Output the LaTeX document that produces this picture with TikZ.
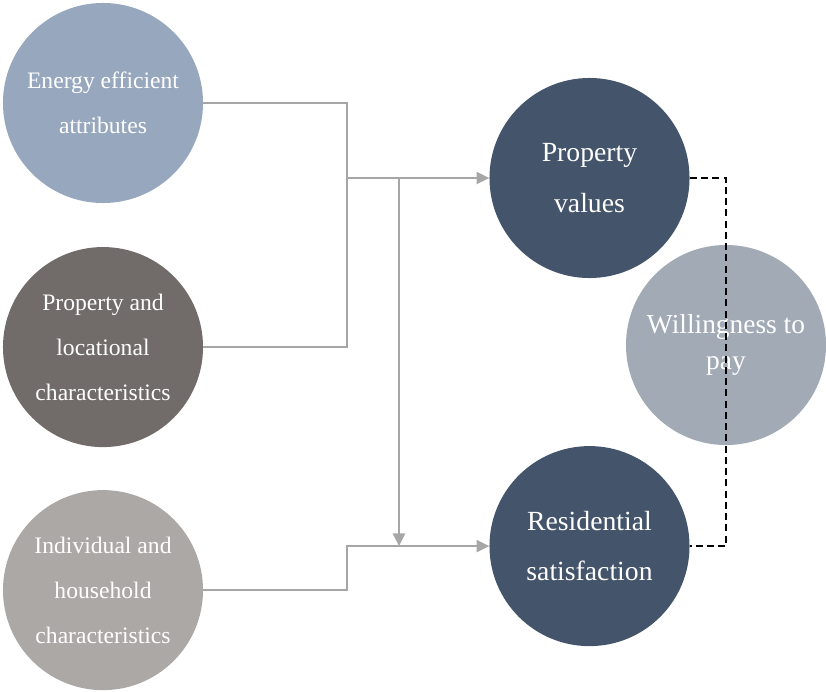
\documentclass[tikz,border=0pt]{standalone}
\usepackage{fontspec}
\setmainfont{Liberation Serif}
\usepackage{tikz}
\usetikzlibrary{positioning,arrows.meta}

\definecolor{energyblue}{HTML}{97A7BE}
\definecolor{locgray}{HTML}{716C6A}
\definecolor{hhgray}{HTML}{ACA8A6}
\definecolor{navy}{HTML}{44546A}
\definecolor{wtpgray}{HTML}{A2AAB5}
\definecolor{linkgray}{HTML}{A6A6A6}

\tikzset{
  circ/.style={circle, minimum size=5cm, inner sep=0pt, text=white, align=center},
  small/.style={font=\fontsize{16.8}{32}\selectfont},
  big/.style={font=\fontsize{19.7}{36}\selectfont},
  link/.style={draw=linkgray, line width=1.8pt},
  tip/.style={-{Triangle[length=9pt,width=8.5pt]}},
}

\begin{document}
\begin{tikzpicture}[x=0.025cm, y=-0.025cm]
\useasboundingbox (0,0) rectangle (826,691);
% left column of factors
\node[circ, small, fill=energyblue] (energy) at (103,103) {Energy efficient\\attributes};
\node[circ, small, fill=locgray, below of=energy, node distance=6.1cm] (prop) {Property and\\locational\\characteristics};
\node[circ, small, fill=hhgray, below of=prop, node distance=6.075cm] (indiv) {Individual and\\household\\characteristics};
% outcomes
\node[circ, big, fill=navy] (value) at (589.5,178) {Property\\values};
\node[circ, big, fill=navy, below of=value, node distance=9.2cm] (satis) {Residential\\satisfaction};
\node[circ, fill=wtpgray, text=white, font=\fontsize{19.5}{26}\selectfont] (wtp) at (726,345) {Willingness to\\pay};
\coordinate (join) at (347,178);
\coordinate (split) at (399,178);
% connectors
\draw[link] (energy.east) -| (join) |- (prop.east);
\draw[link, tip] (join) -- (value.west);
\draw[link, tip] (split) -- (split |- satis.west);
\draw[link, tip] (indiv.east) -| (join |- satis.west) -- (satis.west);
\draw[dashed, line width=1.1pt, dash pattern=on 5pt off 3pt] (value.east) -| (wtp |- satis.east) -- (satis.east);
\end{tikzpicture}
\end{document}
